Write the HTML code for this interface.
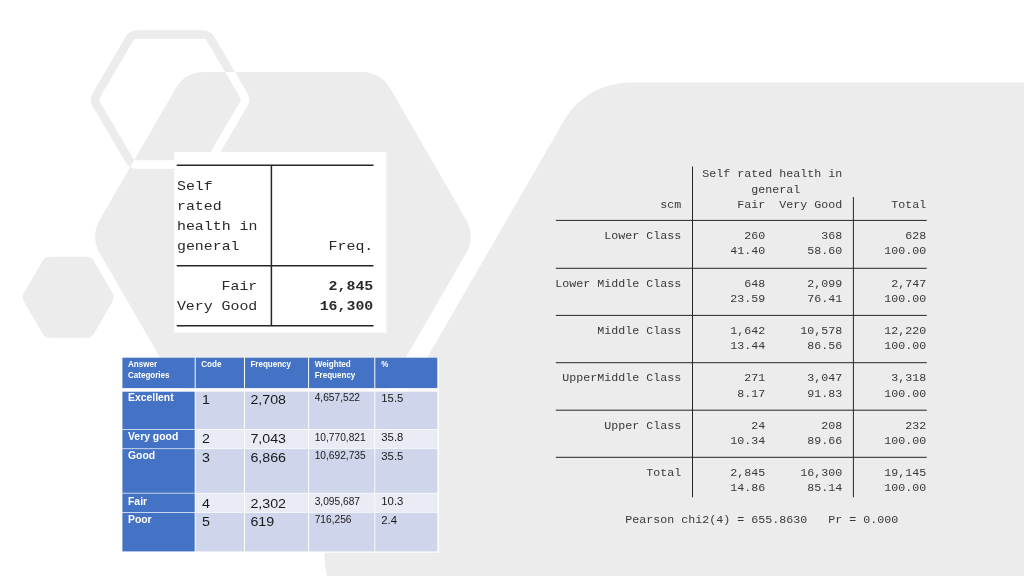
<!DOCTYPE html>
<html lang="en"><head><meta charset="utf-8"><title>Self rated health</title>
<style>
html,body{margin:0;padding:0;background:#fff;}
body{width:1024px;height:576px;overflow:hidden;}
svg{display:block;}
.mono{font-family:"Liberation Mono","DejaVu Sans Mono",monospace;white-space:pre;}
.sans{font-family:"Liberation Sans","DejaVu Sans",sans-serif;}
.st{font-size:11.667px;fill:#383838;}
.s1{font-size:14.9px;fill:#2a2a2a;}
.b{font-weight:bold;}
.hd{font-size:9.2px;font-weight:bold;fill:#fff;}
.lb{font-size:10.4px;font-weight:bold;fill:#fff;}
.big{font-size:13.7px;fill:#1a1a1a;}
.wf{font-size:10.1px;fill:#1a1a1a;}
.pc{font-size:11.1px;fill:#1a1a1a;}
</style></head><body>
<svg width="1024" height="576" viewBox="0 0 1024 576">
<defs><clipPath id="bigclip"><path d="M99.34 252.50A32.00 32.00 0 0 1 99.34 220.50L175.86 88.00A32.00 32.00 0 0 1 203.57 72.00L362.33 72.00A32.00 32.00 0 0 1 390.04 88.00L466.56 220.50A32.00 32.00 0 0 1 466.56 252.50L390.04 385.00A32.00 32.00 0 0 1 362.33 401.00L203.57 401.00A32.00 32.00 0 0 1 175.86 385.00Z"/></clipPath></defs>
<path d="M96.37 104.16A9.00 9.00 0 0 1 96.37 95.04L129.24 39.04A9.00 9.00 0 0 1 137.00 34.60L203.00 34.60A9.00 9.00 0 0 1 210.76 39.04L243.63 95.04A9.00 9.00 0 0 1 243.63 104.16L210.76 160.16A9.00 9.00 0 0 1 203.00 164.60L137.00 164.60A9.00 9.00 0 0 1 129.24 160.16Z" fill="none" stroke="#ececec" stroke-width="8.5" stroke-linejoin="round"/>
<path d="M99.34 252.50A32.00 32.00 0 0 1 99.34 220.50L175.86 88.00A32.00 32.00 0 0 1 203.57 72.00L362.33 72.00A32.00 32.00 0 0 1 390.04 88.00L466.56 220.50A32.00 32.00 0 0 1 466.56 252.50L390.04 385.00A32.00 32.00 0 0 1 362.33 401.00L203.57 401.00A32.00 32.00 0 0 1 175.86 385.00Z" fill="#ececec"/>
<path d="M96.37 104.16A9.00 9.00 0 0 1 96.37 95.04L129.24 39.04A9.00 9.00 0 0 1 137.00 34.60L203.00 34.60A9.00 9.00 0 0 1 210.76 39.04L243.63 95.04A9.00 9.00 0 0 1 243.63 104.16L210.76 160.16A9.00 9.00 0 0 1 203.00 164.60L137.00 164.60A9.00 9.00 0 0 1 129.24 160.16Z" fill="none" stroke="#fff" stroke-width="8.5" stroke-linejoin="round" clip-path="url(#bigclip)"/>
<path d="M23.81 301.30A8.00 8.00 0 0 1 23.81 293.30L42.54 260.86A8.00 8.00 0 0 1 49.47 256.86L86.93 256.86A8.00 8.00 0 0 1 93.86 260.86L112.59 293.30A8.00 8.00 0 0 1 112.59 301.30L93.86 333.74A8.00 8.00 0 0 1 86.93 337.74L49.47 337.74A8.00 8.00 0 0 1 42.54 333.74Z" fill="#ececec"/>
<path d="M334.58 594.00A76.00 76.00 0 0 1 334.58 518.00L564.13 120.40A76.00 76.00 0 0 1 629.95 82.40L1300.00 82.40L1300.00 900.00L511.25 900.00Z" fill="#ececec"/>
<rect x="174" y="152" width="212.4" height="180.7" fill="#fff"/>
<g stroke="#262626" stroke-width="1.5">
<line x1="176.7" y1="165.3" x2="373.5" y2="165.3"/>
<line x1="176.7" y1="265.7" x2="373.5" y2="265.7"/>
<line x1="176.7" y1="325.8" x2="373.5" y2="325.8"/>
<line x1="271.4" y1="165.3" x2="271.4" y2="325.8"/>
</g>
<g class="mono s1">
<text transform="translate(177.0 189.5) scale(1 0.87)">Self</text>
<text transform="translate(177.0 209.6) scale(1 0.87)">rated</text>
<text transform="translate(177.0 229.8) scale(1 0.87)">health in</text>
<text transform="translate(177.0 249.7) scale(1 0.87)">general</text>
<text transform="translate(257.3 289.6) scale(1 0.87)" text-anchor="end">Fair</text>
<text transform="translate(257.3 309.8) scale(1 0.87)" text-anchor="end">Very Good</text>
<text transform="translate(373.3 249.7) scale(1 0.87)" text-anchor="end">Freq.</text>
<text transform="translate(373.3 289.6) scale(1 0.87)" class="b" text-anchor="end">2,845</text>
<text transform="translate(373.3 309.8) scale(1 0.87)" class="b" text-anchor="end">16,300</text>
</g>
<rect x="122.4" y="357.7" width="316.7" height="195.0" fill="#fff" fill-opacity="0.8"/>
<rect x="122.4" y="357.7" width="72.3" height="30.4" fill="#4472c4"/>
<rect x="195.7" y="357.7" width="48.3" height="30.4" fill="#4472c4"/>
<rect x="245.0" y="357.7" width="63.1" height="30.4" fill="#4472c4"/>
<rect x="309.1" y="357.7" width="65.2" height="30.4" fill="#4472c4"/>
<rect x="375.3" y="357.7" width="62.0" height="30.4" fill="#4472c4"/>
<rect x="122.4" y="391.7" width="72.3" height="37.3" fill="#4472c4"/>
<rect x="195.7" y="391.7" width="48.3" height="37.3" fill="#cfd5ea"/>
<rect x="245.0" y="391.7" width="63.1" height="37.3" fill="#cfd5ea"/>
<rect x="309.1" y="391.7" width="65.2" height="37.3" fill="#cfd5ea"/>
<rect x="375.3" y="391.7" width="62.0" height="37.3" fill="#cfd5ea"/>
<rect x="122.4" y="429.7" width="72.3" height="18.7" fill="#4472c4"/>
<rect x="195.7" y="429.7" width="48.3" height="18.7" fill="#e9ebf5"/>
<rect x="245.0" y="429.7" width="63.1" height="18.7" fill="#e9ebf5"/>
<rect x="309.1" y="429.7" width="65.2" height="18.7" fill="#e9ebf5"/>
<rect x="375.3" y="429.7" width="62.0" height="18.7" fill="#e9ebf5"/>
<rect x="122.4" y="449.1" width="72.3" height="43.7" fill="#4472c4"/>
<rect x="195.7" y="449.1" width="48.3" height="43.7" fill="#cfd5ea"/>
<rect x="245.0" y="449.1" width="63.1" height="43.7" fill="#cfd5ea"/>
<rect x="309.1" y="449.1" width="65.2" height="43.7" fill="#cfd5ea"/>
<rect x="375.3" y="449.1" width="62.0" height="43.7" fill="#cfd5ea"/>
<rect x="122.4" y="493.5" width="72.3" height="18.6" fill="#4472c4"/>
<rect x="195.7" y="493.5" width="48.3" height="18.6" fill="#e9ebf5"/>
<rect x="245.0" y="493.5" width="63.1" height="18.6" fill="#e9ebf5"/>
<rect x="309.1" y="493.5" width="65.2" height="18.6" fill="#e9ebf5"/>
<rect x="375.3" y="493.5" width="62.0" height="18.6" fill="#e9ebf5"/>
<rect x="122.4" y="512.8" width="72.3" height="38.6" fill="#4472c4"/>
<rect x="195.7" y="512.8" width="48.3" height="38.6" fill="#cfd5ea"/>
<rect x="245.0" y="512.8" width="63.1" height="38.6" fill="#cfd5ea"/>
<rect x="309.1" y="512.8" width="65.2" height="38.6" fill="#cfd5ea"/>
<rect x="375.3" y="512.8" width="62.0" height="38.6" fill="#cfd5ea"/>
<g class="sans">
<text transform="translate(128.0 366.7) scale(0.875 1)" class="hd">Answer</text>
<text transform="translate(128.0 378.4) scale(0.875 1)" class="hd">Categories</text>
<text transform="translate(201.3 366.7) scale(0.875 1)" class="hd">Code</text>
<text transform="translate(250.4 366.7) scale(0.875 1)" class="hd">Frequency</text>
<text transform="translate(314.7 366.7) scale(0.875 1)" class="hd">Weighted</text>
<text transform="translate(314.7 378.4) scale(0.875 1)" class="hd">Frequency</text>
<text transform="translate(381.3 366.7) scale(0.875 1)" class="hd">%</text>
<text x="128.0" y="400.5" class="lb">Excellent</text>
<text transform="translate(201.9 403.6) scale(1.04 1)" class="big">1</text>
<text transform="translate(250.4 403.6) scale(1.04 1)" class="big">2,708</text>
<text transform="translate(314.7 401.1) scale(1.01 1)" class="wf">4,657,522</text>
<text transform="translate(381.3 401.5) scale(1.02 1)" class="pc">15.5</text>
<text x="128.0" y="440.4" class="lb">Very good</text>
<text transform="translate(201.9 443.3) scale(1.04 1)" class="big">2</text>
<text transform="translate(250.4 443.3) scale(1.04 1)" class="big">7,043</text>
<text transform="translate(314.7 440.5) scale(1.01 1)" class="wf">10,770,821</text>
<text transform="translate(381.3 441.0) scale(1.02 1)" class="pc">35.8</text>
<text x="128.0" y="459.2" class="lb">Good</text>
<text transform="translate(201.9 461.8) scale(1.04 1)" class="big">3</text>
<text transform="translate(250.4 461.8) scale(1.04 1)" class="big">6,866</text>
<text transform="translate(314.7 459.3) scale(1.01 1)" class="wf">10,692,735</text>
<text transform="translate(381.3 459.8) scale(1.02 1)" class="pc">35.5</text>
<text x="128.0" y="504.6" class="lb">Fair</text>
<text transform="translate(201.9 507.6) scale(1.04 1)" class="big">4</text>
<text transform="translate(250.4 507.6) scale(1.04 1)" class="big">2,302</text>
<text transform="translate(314.7 504.9) scale(1.01 1)" class="wf">3,095,687</text>
<text transform="translate(381.3 505.4) scale(1.02 1)" class="pc">10.3</text>
<text x="128.0" y="523.1" class="lb">Poor</text>
<text transform="translate(201.9 526.2) scale(1.04 1)" class="big">5</text>
<text transform="translate(250.4 526.2) scale(1.04 1)" class="big">619</text>
<text transform="translate(314.7 523.1) scale(1.01 1)" class="wf">716,256</text>
<text transform="translate(381.3 523.6) scale(1.02 1)" class="pc">2.4</text>
</g>
<g class="mono st">
<text transform="translate(702.2 176.7) scale(1 0.92)">Self rated health in</text>
<text transform="translate(751.2 192.5) scale(1 0.92)">general</text>
<text transform="translate(660.2 208.3) scale(1 0.92)">scm</text>
<text transform="translate(737.2 208.3) scale(1 0.92)">Fair</text>
<text transform="translate(779.2 208.3) scale(1 0.92)">Very Good</text>
<text transform="translate(891.2 208.3) scale(1 0.92)">Total</text>
<text transform="translate(604.2 239.0) scale(1 0.92)">Lower Class</text>
<text transform="translate(744.2 239.0) scale(1 0.92)">260</text>
<text transform="translate(821.2 239.0) scale(1 0.92)">368</text>
<text transform="translate(905.2 239.0) scale(1 0.92)">628</text>
<text transform="translate(730.2 254.3) scale(1 0.92)">41.40</text>
<text transform="translate(807.2 254.3) scale(1 0.92)">58.60</text>
<text transform="translate(884.2 254.3) scale(1 0.92)">100.00</text>
<text transform="translate(555.2 286.9) scale(1 0.92)">Lower Middle Class</text>
<text transform="translate(744.2 286.9) scale(1 0.92)">648</text>
<text transform="translate(807.2 286.9) scale(1 0.92)">2,099</text>
<text transform="translate(891.2 286.9) scale(1 0.92)">2,747</text>
<text transform="translate(730.2 302.2) scale(1 0.92)">23.59</text>
<text transform="translate(807.2 302.2) scale(1 0.92)">76.41</text>
<text transform="translate(884.2 302.2) scale(1 0.92)">100.00</text>
<text transform="translate(597.2 334.0) scale(1 0.92)">Middle Class</text>
<text transform="translate(730.2 334.0) scale(1 0.92)">1,642</text>
<text transform="translate(800.2 334.0) scale(1 0.92)">10,578</text>
<text transform="translate(884.2 334.0) scale(1 0.92)">12,220</text>
<text transform="translate(730.2 349.3) scale(1 0.92)">13.44</text>
<text transform="translate(807.2 349.3) scale(1 0.92)">86.56</text>
<text transform="translate(884.2 349.3) scale(1 0.92)">100.00</text>
<text transform="translate(562.2 381.3) scale(1 0.92)">UpperMiddle Class</text>
<text transform="translate(744.2 381.3) scale(1 0.92)">271</text>
<text transform="translate(807.2 381.3) scale(1 0.92)">3,047</text>
<text transform="translate(891.2 381.3) scale(1 0.92)">3,318</text>
<text transform="translate(737.2 396.6) scale(1 0.92)">8.17</text>
<text transform="translate(807.2 396.6) scale(1 0.92)">91.83</text>
<text transform="translate(884.2 396.6) scale(1 0.92)">100.00</text>
<text transform="translate(604.2 428.8) scale(1 0.92)">Upper Class</text>
<text transform="translate(751.2 428.8) scale(1 0.92)">24</text>
<text transform="translate(821.2 428.8) scale(1 0.92)">208</text>
<text transform="translate(905.2 428.8) scale(1 0.92)">232</text>
<text transform="translate(730.2 444.1) scale(1 0.92)">10.34</text>
<text transform="translate(807.2 444.1) scale(1 0.92)">89.66</text>
<text transform="translate(884.2 444.1) scale(1 0.92)">100.00</text>
<text transform="translate(646.2 475.9) scale(1 0.92)">Total</text>
<text transform="translate(730.2 475.9) scale(1 0.92)">2,845</text>
<text transform="translate(800.2 475.9) scale(1 0.92)">16,300</text>
<text transform="translate(884.2 475.9) scale(1 0.92)">19,145</text>
<text transform="translate(730.2 491.2) scale(1 0.92)">14.86</text>
<text transform="translate(807.2 491.2) scale(1 0.92)">85.14</text>
<text transform="translate(884.2 491.2) scale(1 0.92)">100.00</text>
<text transform="translate(625.2 523.0) scale(1 0.92)">Pearson chi2(4) = 655.8630</text>
<text transform="translate(828.2 523.0) scale(1 0.92)">Pr = 0.000</text>
</g>
<g stroke="#262626" stroke-width="1">
<line x1="555.8" y1="220.4" x2="926.8" y2="220.4"/>
<line x1="555.8" y1="268.3" x2="926.8" y2="268.3"/>
<line x1="555.8" y1="315.4" x2="926.8" y2="315.4"/>
<line x1="555.8" y1="362.7" x2="926.8" y2="362.7"/>
<line x1="555.8" y1="410.2" x2="926.8" y2="410.2"/>
<line x1="555.8" y1="457.3" x2="926.8" y2="457.3"/>
<line x1="692.5" y1="166.5" x2="692.5" y2="497.3"/>
<line x1="853.4" y1="197" x2="853.4" y2="497.3"/>
</g>
</svg></body></html>
